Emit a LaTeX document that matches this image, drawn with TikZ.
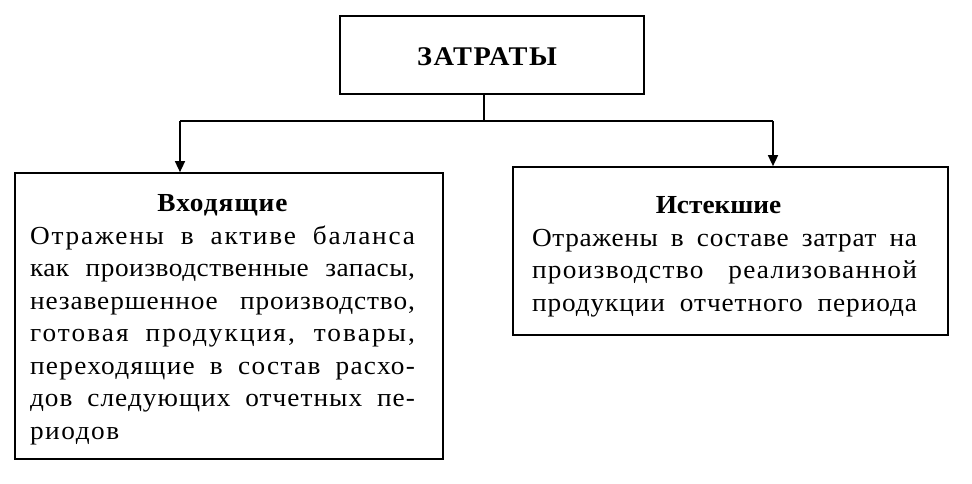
\documentclass[tikz,border=0pt]{standalone}
\usepackage{fontspec}
\setmainfont{Liberation Serif}[FakeStretch=1.05]
\usetikzlibrary{arrows.meta}
\newcommand{\myjline}[2][0]{\makebox[385pt][s]{\addfontfeature{LetterSpace=#1}\spaceskip=0.35em plus 1fil\relax #2}}
\newcommand{\mylline}[2][0]{\makebox[385pt][l]{\addfontfeature{LetterSpace=#1}#2}}
\newcommand{\mycline}[2][0]{\makebox[385pt][c]{\addfontfeature{LetterSpace=#1}#2}}
\begin{document}
\begin{tikzpicture}[x=1pt,y=1pt,
  box/.style={draw, line width=1.7pt, inner sep=0pt},
  txt/.style={font=\fontsize{26}{32.5}\selectfont, text width=385pt, align=left, inner sep=0pt},
  ttl/.style={font=\bfseries\fontsize{27}{30}\selectfont, inner sep=0pt},
  ln/.style={line width=1.5pt},
  arr/.style={line width=1.5pt, -{Triangle[length=11pt,width=10pt]}}]
\useasboundingbox (0,0) rectangle (972,-484);
% boxes
\node[box, minimum width=304pt, minimum height=78pt] (top) at (492,-55) {};
\node[ttl] (toptext) at (487,-57) {\addfontfeature{LetterSpace=6}ЗАТРАТЫ};
\node[box, minimum width=428pt, minimum height=286pt] (left) at (229,-316) {};
\node[box, minimum width=435pt, minimum height=168pt] (right) at (730.5,-251) {};
% texts
\node[txt] (ltext) at (222.5,-320) {%
\mycline[4]{\bfseries Входящие}\\
\myjline[7]{Отражены в активе баланса}\\
\myjline[2]{как производственные запасы,}\\
\myjline[3.5]{незавершенное производство,}\\
\myjline[8]{готовая продукция, товары,}\\
\myjline[5]{переходящие в состав расхо-}\\
\myjline[4]{дов следующих отчетных пе-}\\
\mylline[6]{риодов}};
\node[txt] (rtext) at (724.5,-257) {%
\mycline{\bfseries Истекшие\hspace{12pt}}\\
\myjline[2.5]{Отражены в составе затрат на}\\
\myjline[5]{производство реализованной}\\
\myjline[3.5]{продукции отчетного периода}};
% connectors
\coordinate (j) at (484,-121);
\coordinate (la) at (180,-121);
\coordinate (ra) at (773,-121);
\draw[ln] (top.south -| j) -- (j);
\draw[ln] (la) -- (ra);
\draw[arr] (la) -- (la |- left.north);
\draw[arr] (ra) -- (ra |- right.north);
\end{tikzpicture}
\end{document}
